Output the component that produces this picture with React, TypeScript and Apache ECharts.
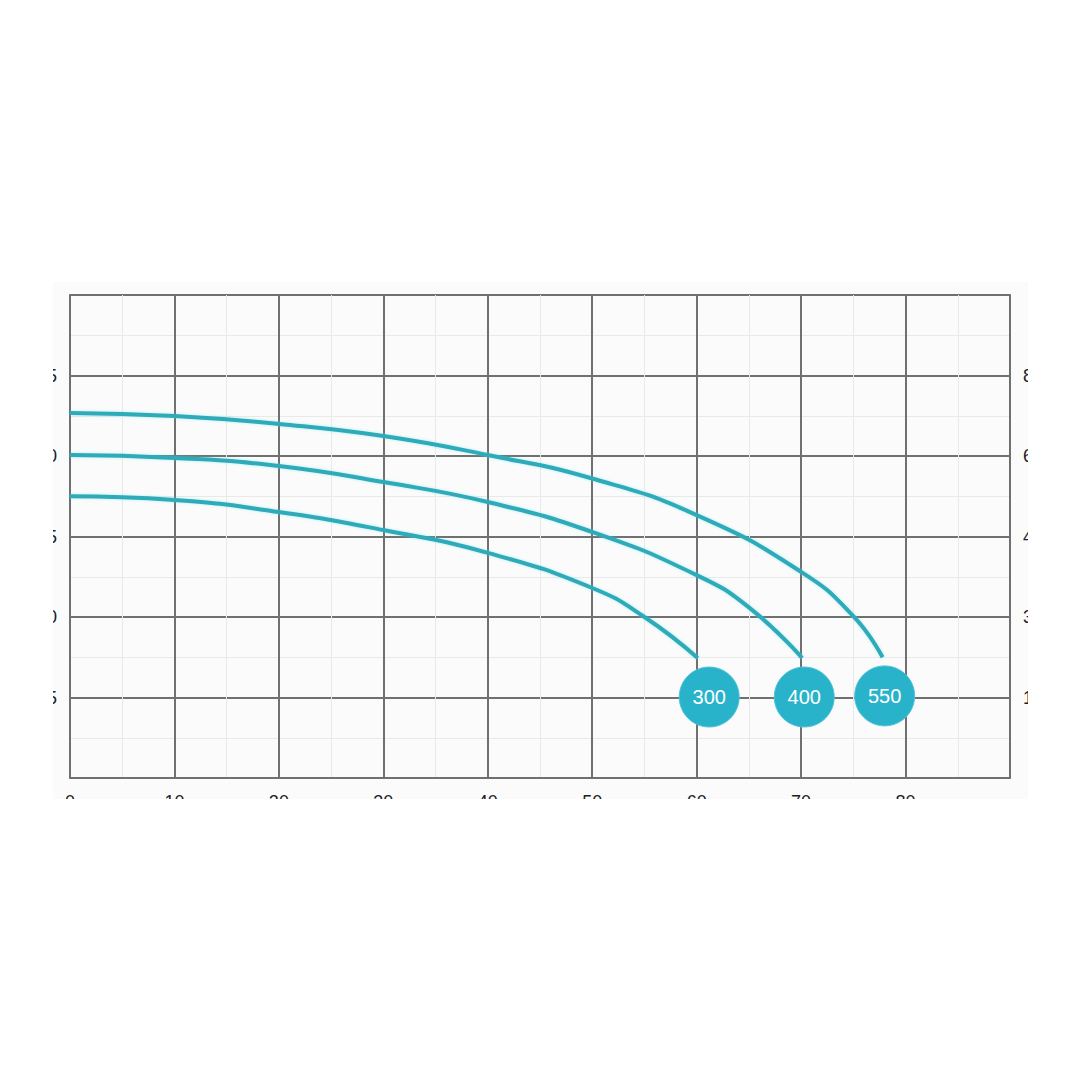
import React, { useEffect, useRef } from "react";
import * as echarts from "echarts";

// Flow (x) and head (y, m) for each pump curve
const flow300 = [0, 10, 20, 30, 40, 50, 55, 60.1];
const head300 = [17.5, 17.27, 16.52, 15.4, 13.98, 11.8, 10.0, 7.45];

const flow400 = [0, 10, 20, 30, 40, 50, 60, 65, 70.1];
const head400 = [20.06, 19.88, 19.38, 18.38, 17.14, 15.28, 12.6, 10.6, 7.45];

const flow550 = [0, 10, 20, 30, 40, 50, 60, 70, 75, 77.8];
const head550 = [22.67, 22.48, 21.99, 21.24, 20.06, 18.6, 16.33, 12.8, 10.05, 7.5];

// Model badges
const badgeNames = ["300", "400", "550"];
const badgeFlow = [61.2, 70.3, 78.0];
const badgeHead = [5.03, 5.03, 5.1];

// Tick labels
const xTickLabels = ["0", "10", "20", "30", "40", "50", "60", "70", "80"];
const leftTickValues = [5, 10, 15, 20, 25];
const leftTickLabels = ["5", "10", "15", "20", "25"];
const rightTickLabels = ["16", "33", "49", "66", "82"];

const LINE_COLOR = "#2eaab9";
const BADGE_COLOR = "#29b3ca";
const MAJOR = "#707070";
const MINOR = "#e9e9e9";

function zip(xs: number[], ys: number[]) {
  return xs.map((x, i) => [x, ys[i]]);
}

export default function App() {
  const ref = useRef<HTMLDivElement>(null);

  useEffect(() => {
    if (!ref.current) return;
    const chart = echarts.init(ref.current, undefined, { renderer: "svg" });

    const yLabel = (labels: string[]) => (v: number) => {
      const i = leftTickValues.indexOf(v);
      return i >= 0 ? labels[i] : "";
    };

    const commonY = {
      type: "value",
      min: 0,
      max: 30,
      interval: 5,
      axisLine: { show: true, lineStyle: { color: MAJOR, width: 2 } },
      axisTick: { show: false },
      minorTick: { show: false, splitNumber: 2 },
      minorSplitLine: { show: true, lineStyle: { color: MINOR, width: 1 } },
      splitLine: { show: true, lineStyle: { color: MAJOR, width: 2 } },
    };

    const lineSeries = (name: string, xs: number[], ys: number[]) => ({
      name,
      type: "line",
      data: zip(xs, ys),
      smooth: 0.5,
      symbol: "none",
      lineStyle: {
        color: LINE_COLOR,
        width: 4,
        shadowColor: "rgba(80,220,235,0.45)",
        shadowBlur: 3,
      },
      z: 3,
    });

    chart.setOption({
      animation: false,
      backgroundColor: "transparent",
      grid: { left: 70, top: 295, right: 70, bottom: 302, containLabel: false },
      xAxis: {
        type: "value",
        min: 0,
        max: 90,
        interval: 10,
        axisLine: { show: true, onZero: false, lineStyle: { color: MAJOR, width: 2 } },
        axisTick: { show: false },
        minorTick: { show: false, splitNumber: 2 },
        minorSplitLine: { show: true, lineStyle: { color: MINOR, width: 1 } },
        splitLine: { show: true, lineStyle: { color: MAJOR, width: 2 } },
        axisLabel: {
          margin: 15,
          fontSize: 18,
          color: "#222",
          fontFamily: "Liberation Sans, Arial, sans-serif",
          formatter: (v: number) => {
            const i = Math.round(v / 10);
            return i < xTickLabels.length && Math.abs(v - i * 10) < 1e-6 ? xTickLabels[i] : "";
          },
        },
      },
      yAxis: [
        {
          ...commonY,
          position: "left",
          axisLabel: {
            margin: 13,
            fontSize: 18,
            color: "#222",
            fontFamily: "Liberation Sans, Arial, sans-serif",
            formatter: yLabel(leftTickLabels),
          },
        },
        {
          ...commonY,
          position: "right",
          minorSplitLine: { show: false },
          splitLine: { show: false },
          axisLabel: {
            margin: 13,
            fontSize: 18,
            color: "#222",
            fontFamily: "Liberation Sans, Arial, sans-serif",
            formatter: yLabel(rightTickLabels),
          },
        },
      ],
      series: [
        lineSeries("300", flow300, head300),
        lineSeries("400", flow400, head400),
        lineSeries("550", flow550, head550),
        {
          type: "scatter",
          data: badgeNames.map((n, i) => ({ name: n, value: [badgeFlow[i], badgeHead[i]] })),
          symbol: "circle",
          symbolSize: 60,
          itemStyle: { color: BADGE_COLOR, opacity: 1, borderColor: "#4fc4d7", borderWidth: 1 },
          label: {
            show: true,
            position: "inside",
            formatter: (p: any) => p.name,
            color: "#ffffff",
            fontSize: 20,
            fontFamily: "Liberation Sans, Arial, sans-serif",
          },
          z: 5,
        },
      ],
    });

    return () => chart.dispose();
  }, []);

  return (
    <div
      style={{
        position: "absolute",
        left: 0,
        top: 0,
        width: 1080,
        height: 1080,
        background: "#ffffff",
        overflow: "hidden",
      }}
    >
      <div
        style={{
          position: "absolute",
          left: 53,
          top: 282,
          width: 975,
          height: 517,
          overflow: "hidden",
          background: "#fbfbfb",
        }}
      >
        <div
          ref={ref}
          style={{ position: "absolute", left: -53, top: -282, width: 1080, height: 1080 }}
        />
      </div>
    </div>
  );
}
